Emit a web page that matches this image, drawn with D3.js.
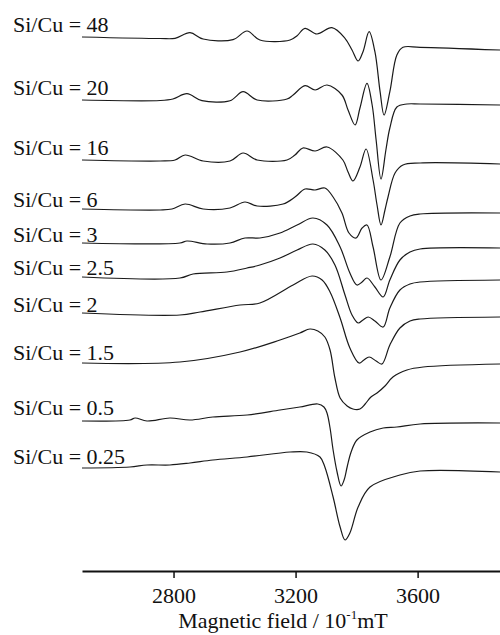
<!DOCTYPE html>
<html>
<head>
<meta charset="utf-8">
<script src="https://cdn.jsdelivr.net/npm/d3@7"></script>
<style>
  body { margin: 0; background: #fff; }
  svg { display: block; }
  text { font-family: "Liberation Serif", "Times New Roman", serif; fill: #111; }
</style>
</head>
<body>
<svg id="chart"></svg>
<script>
// EPR spectra, one trace per Si/Cu ratio (top to bottom)
const ratios = ["48", "20", "16", "6", "3", "2.5", "2", "1.5", "0.5", "0.25"];

// vertical stacking offset of each trace (a.u.)
const offsets = [534, 471, 411, 362, 328, 294, 258, 208, 150, 103];

// field (10^-1 mT) and signal (a.u.)
const f48 = [2500, 2756, 2805, 2854, 2897, 2995, 3041, 3083, 3182, 3205, 3231, 3270, 3319, 3362, 3385, 3405, 3421, 3441, 3460, 3477, 3490, 3509, 3532, 3552, 3608, 3870];
const s48 = [0, -1.5, -1.3, 4.3, -2, -2.7, 6, -3, -3, 1.3, 8.7, 3, 9.3, -1.3, -13, -24, -14.7, 5.3, -14.7, -54.7, -78, -54.7, -18, -10.3, -10.3, -13];

const f20 = [2500, 2756, 2798, 2844, 2893, 2985, 3028, 3074, 3172, 3192, 3231, 3264, 3303, 3352, 3372, 3395, 3411, 3434, 3451, 3464, 3480, 3496, 3509, 3532, 3565, 3608, 3870];
const s20 = [0, -0.5, 1, 6.3, -0.7, -0.7, 8.3, 0, 1, 5, 14.3, 10, 15, 5, -10, -25, -8, 16.7, -5, -40, -79, -50, -28, -7, -4, -4, -5];

const f16 = [2500, 2756, 2805, 2838, 2897, 2985, 3028, 3074, 3172, 3198, 3224, 3264, 3303, 3355, 3372, 3388, 3411, 3431, 3454, 3467, 3480, 3493, 3503, 3526, 3552, 3608, 3870];
const s16 = [0, -1, 0, 5, -1, -1, 7, 0, 0, 5, 12, 9, 13, 0, -12, -21, -7, 11, -20, -45, -65, -50, -37, -13, -5, -3, -4];

const f6 = [2500, 2756, 2795, 2838, 2897, 2985, 3034, 3074, 3159, 3198, 3231, 3264, 3296, 3323, 3352, 3375, 3398, 3418, 3434, 3454, 3480, 3509, 3542, 3575, 3608, 3870];
const s6 = [0, -1, 0, 5, 0, 1, 7, 3, 5, 12, 20, 19, 21, 12, -4, -24, -29, -19, -16, -38, -71, -48, -14, -7, -5, -4];

const f3 = [2500, 2821, 2844, 2910, 2985, 3034, 3083, 3149, 3205, 3257, 3303, 3346, 3378, 3401, 3418, 3434, 3460, 3487, 3509, 3542, 3575, 3608, 3870];
const s3 = [0, 0, 2, -1, 0, 5, 5, 10, 18, 25, 18, -4, -30, -42, -39, -35, -44, -54, -37, -17, -9, -6, -5];

const f25 = [2500, 2821, 2864, 2975, 3041, 3083, 3149, 3205, 3257, 3296, 3329, 3362, 3385, 3405, 3421, 3438, 3460, 3487, 3509, 3542, 3575, 3608, 3870];
const s25 = [0, -1, 3, 5, 9, 12, 19, 27, 33, 27, 12, -18, -38, -46, -43, -40, -44, -50, -31, -13, -7, -5, -3];

const f2 = [2500, 2821, 2887, 3018, 3083, 3192, 3254, 3287, 3313, 3346, 3378, 3408, 3424, 3441, 3464, 3483, 3509, 3542, 3575, 3608, 3870];
const s2 = [0, -2, 1, 8, 10, 28, 37, 33, 21, -5, -35, -50, -47, -44, -48, -51, -32, -15, -8, -6, -4];

const f15 = [2500, 2821, 3018, 3149, 3214, 3247, 3273, 3296, 3313, 3329, 3346, 3369, 3388, 3411, 3428, 3447, 3467, 3493, 3519, 3565, 3618, 3870];
const s15 = [0, 1, 11, 23, 30, 34, 32, 26, 13, -15, -35, -43, -46, -46, -41, -34, -30, -23, -14, -7, -4, -1];

const f05 = [2500, 2657, 2674, 2713, 2788, 2854, 2929, 3041, 3149, 3214, 3273, 3293, 3303, 3313, 3323, 3336, 3349, 3359, 3369, 3382, 3401, 3444, 3487, 3532, 3608, 3870];
const s05 = [0, 1, 3, 0, 3, 1, 4, 6, 11, 14, 17, 14, 8, -7, -29, -51, -65, -59, -46, -31, -19, -11, -7, -6, -3, -2];

const f025 = [2500, 2657, 2713, 2788, 2854, 2929, 3041, 3182, 3237, 3280, 3296, 3323, 3346, 3362, 3378, 3405, 3444, 3542, 3608, 3870];
const s025 = [0, 1, 3, 3, 5, 8, 11, 16, 16, 11, 1, -29, -59, -72, -65, -39, -19, -7, -3, -4];

const fields = [f48, f20, f16, f6, f3, f25, f2, f15, f05, f025];
const signals = [s48, s20, s16, s6, s3, s25, s2, s15, s05, s025];

const xTicks = [2800, 3200, 3600];

let width = 500, height = 635;

const svg = d3.select("#chart")
    .attr("width", width)
    .attr("height", height)

const x = d3.scaleLinear().domain([2500, 3870]).range([82, 500])
const y = d3.scaleLinear().domain([0, 500]).range([571, 71])

const line = d3.line()
    .x(d => x(d[0]))
    .y(d => y(d[1]))
    .curve(d3.curveCatmullRom.alpha(0.5))

// label baseline nudges (px above trace start)
const labelDy = [5, 5, 5, 2, 1, 2, 1, 3, 6, 4];

ratios.forEach((r, i) => {
    const pts = fields[i].map((f, j) => [f, offsets[i] + signals[i][j]]);

    svg.append("path")
        .datum(pts)
        .attr("d", line)
        .attr("fill", "none")
        .attr("stroke", "#1a1a1a")
        .attr("stroke-width", 1.2)

    svg.append("text")
        .attr("x", 13)
        .attr("y", y(offsets[i]) - labelDy[i])
        .attr("font-size", 22)
        .text("Si/Cu = " + r)
})

const axis = d3.axisBottom(x)
    .tickValues(xTicks)
    .tickFormat(d3.format("d"))
    .tickSize(7)
    .tickSizeOuter(0)
    .tickPadding(9)

const gx = svg.append("g")
    .attr("transform", `translate(0,${y(0)})`)
    .call(axis)

gx.select(".domain").attr("stroke", "#111").attr("stroke-width", 2)
gx.selectAll(".tick line").attr("stroke", "#111").attr("stroke-width", 1.5)
gx.selectAll(".tick text")
    .attr("font-family", "Liberation Serif, serif")
    .attr("font-size", 22)
    .attr("fill", "#111")

const title = svg.append("text")
    .attr("x", 283)
    .attr("y", 628)
    .attr("text-anchor", "middle")
    .attr("font-size", 22)

title.append("tspan").text("Magnetic field / 10")
title.append("tspan").attr("font-size", 13).attr("dy", -9).text("-1")
title.append("tspan").attr("dy", 9).text("mT")
</script>
</body>
</html>
